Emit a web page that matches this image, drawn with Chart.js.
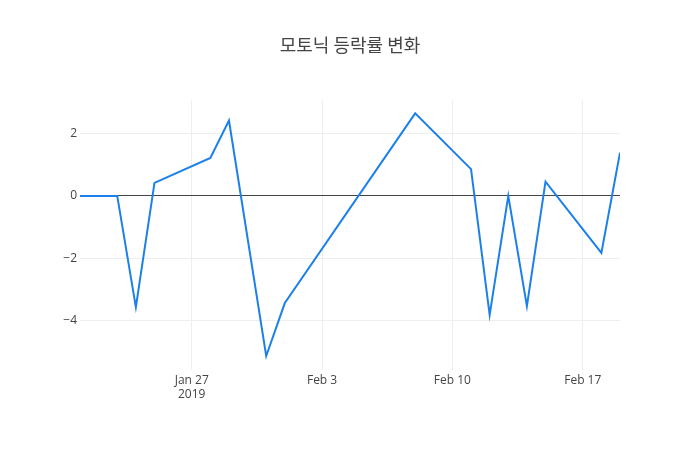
<!DOCTYPE html>
<html>
<head>
<meta charset="utf-8">
<script src="https://cdn.jsdelivr.net/npm/chart.js@4"></script>
<style>
  html, body { margin: 0; padding: 0; background: #fff; }
</style>
</head>
<body>
<canvas id="grafico" width="700" height="450"></canvas>
<script>
// dados
const datas = ['2019-01-21', '2019-01-23', '2019-01-24', '2019-01-25', '2019-01-28', '2019-01-29',
   '2019-01-31', '2019-02-01', '2019-02-08', '2019-02-11', '2019-02-12', '2019-02-13',
   '2019-02-14', '2019-02-15', '2019-02-18', '2019-02-19'];
const variacao = [0, 0, -3.57, 0.42, 1.22, 2.42, -5.14, -3.44, 2.65, 0.86, -3.82, 0, -3.54, 0.46, -1.83, 1.39];
const tickDatas = ['2019-01-27', '2019-02-03', '2019-02-10', '2019-02-17'];
const tickLabels = [['Jan 27', '2019'], 'Feb 3', 'Feb 10', 'Feb 17'];
const yTicks = [-4, -2, 0, 2];

const DIA = 86400000;
const inicio = Date.parse('2019-01-21');
function dia(d) { return (Date.parse(d) - inicio) / DIA; }

let pontos = [];
for (i = 0; i < datas.length; i++) {
   pontos.push({ x: dia(datas[i]), y: variacao[i] });
}
const xTicks = tickDatas.map(dia);

var ctx = document.getElementById('grafico').getContext('2d');
var chartjs = new Chart(ctx, {
   type: 'line',
   data: {
      datasets: [{
         data: pontos,
         borderColor: 'rgb(28,128,234)',
         borderWidth: 2,
         pointRadius: 0,
         tension: 0,
         fill: false
      }]
   },
   options: {
      responsive: false,
      animation: false,
      devicePixelRatio: 1,
      layout: { padding: 0 },
      plugins: {
         legend: { display: false },
         tooltip: { enabled: false },
         title: {
            display: true,
            text: '모토닉 등락률 변화',
            color: '#444',
            font: { family: '"Noto Sans CJK KR", "Open Sans", sans-serif', size: 18, weight: 'normal' },
            padding: { top: 34, bottom: 44.4 }
         }
      },
      scales: {
         x: {
            type: 'linear',
            min: 0,
            max: dia('2019-02-19'),
            afterBuildTicks: s => { s.ticks = xTicks.map(v => ({ value: v })); },
            afterFit: s => { s.height = 80; },
            grid: { color: '#eee', drawTicks: false },
            border: { display: false },
            ticks: {
               padding: 3,
               color: '#444',
               font: { family: '"Open Sans", sans-serif', size: 12 },
               maxRotation: 0,
               autoSkip: false,
               callback: (v) => tickLabels[xTicks.indexOf(v)]
            }
         },
         y: {
            min: -5.59,
            max: 3.08,
            afterBuildTicks: s => { s.ticks = yTicks.map(v => ({ value: v })); },
            afterFit: s => { s.width = 80; },
            grid: {
               drawTicks: false,
               color: c => c.tick && c.tick.value === 0 ? '#444' : '#eee',
               lineWidth: 1
            },
            border: { display: false },
            ticks: {
               padding: 3,
               color: '#444',
               font: { family: '"Open Sans", sans-serif', size: 12 },
               callback: v => v < 0 ? '\u2212' + Math.abs(v) : '' + v
            }
         },
         // eixo vazio so para a margem direita
         yDir: {
            position: 'right',
            min: -5.59,
            max: 3.08,
            afterFit: s => { s.width = 80; },
            grid: { display: false, drawOnChartArea: false },
            border: { display: false },
            ticks: { display: false }
         }
      }
   }
});
</script>
</body>
</html>
